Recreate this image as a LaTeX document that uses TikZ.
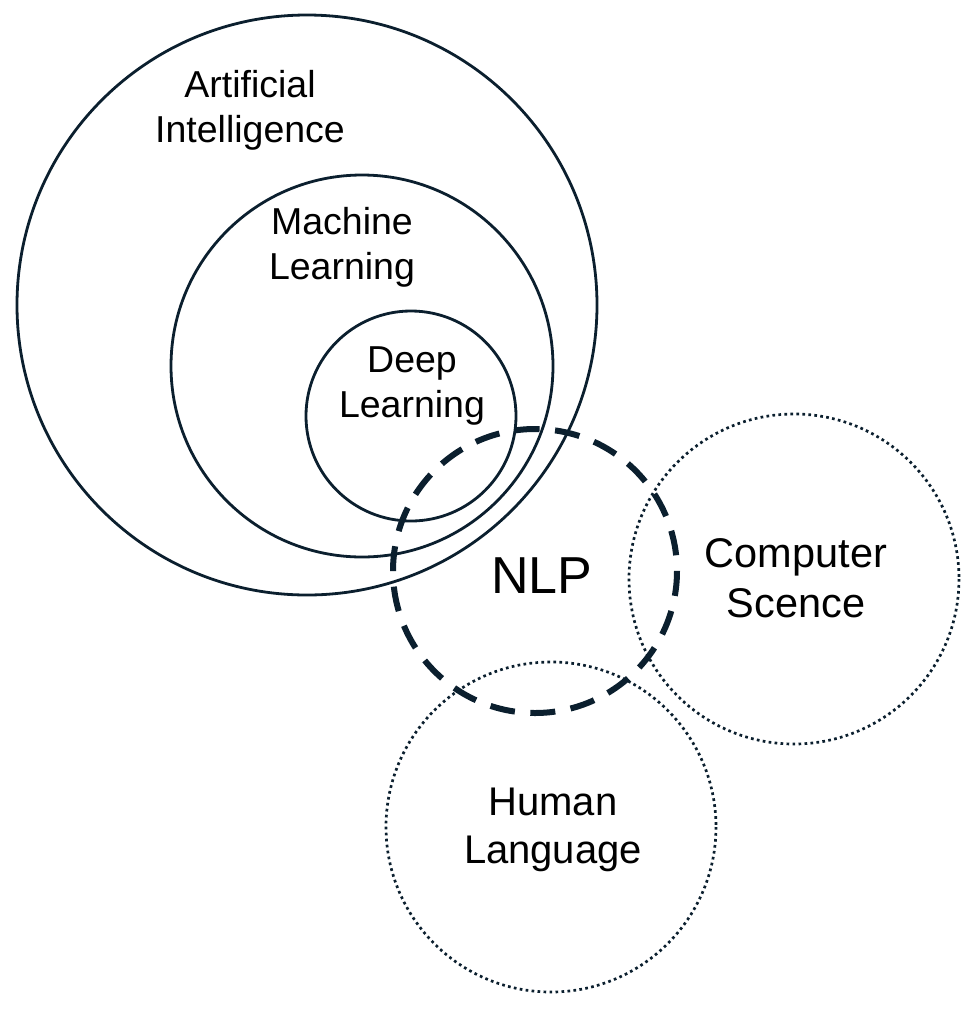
\documentclass[tikz,border=0pt]{standalone}
\usepackage{fontspec}
\setmainfont{Liberation Sans}
\definecolor{ink}{HTML}{0B1F2E}
\begin{document}
\begin{tikzpicture}[x=1pt,y=-1pt,
  solidc/.style={draw=ink,line width=2.8pt},
  dashc/.style={draw=ink,line width=6pt,dash pattern=on 25pt off 15.55pt},
  dotc/.style={draw=ink,line width=2.7pt,dash pattern=on 2.7pt off 3.3pt},
  lab/.style={inner sep=0pt,align=center,text=black,anchor=base},
  small/.style={lab,font=\fontsize{37.5}{45}\selectfont},
  big/.style={lab,font=\fontsize{40}{48}\selectfont}]
\useasboundingbox (0,0) rectangle (972,1013);
\draw[solidc] (307,305) circle[radius=290];
\draw[solidc] (362,366) circle[radius=191];
\draw[solidc] (411,416) circle[radius=105];
\draw[dashc] (535,571) circle[radius=142];
\draw[dotc] (794,579) circle[radius=165];
\draw[dotc] (551,827) circle[radius=165];
\node[small] (ai) at (250,142) {Artificial\\Intelligence};
\node[small] (ml) at (342,279) {Machine\\Learning};
\node[small] (dl) at (412,417) {Deep\\Learning};
\node[lab,font=\fontsize{52}{60}\selectfont] (nlp) at (542,593) {NLP};
\node[big,font=\fontsize{41.5}{50}\selectfont] (cs) at (796,617) {Computer\\Scence};
\node[big] (hl) at (553,863) {Human\\Language};
\end{tikzpicture}
\end{document}
